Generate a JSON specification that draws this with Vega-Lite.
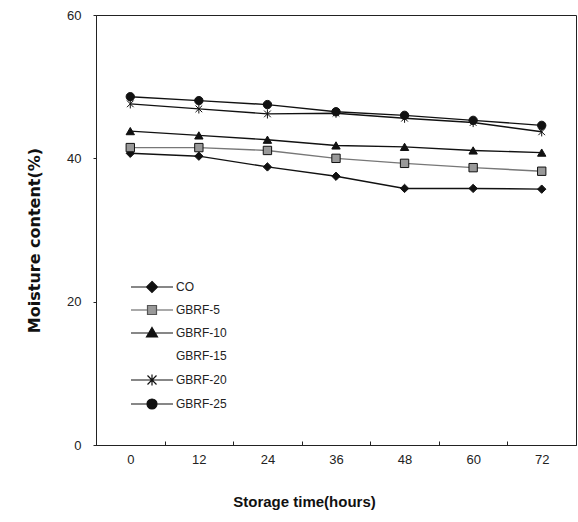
{
  "$schema": "https://vega.github.io/schema/vega-lite/v6.json",
  "width": 480,
  "height": 430,
  "autosize": "none",
  "padding": {"left": 96, "top": 15, "right": 2, "bottom": 77},
  "background": "white",
  "config": {
    "view": {"stroke": "#222", "strokeWidth": 1},
    "font": "Liberation Sans"
  },
  "data": {
    "values": [
      {"t": 0, "series": "CO", "v": 40.7},
      {"t": 12, "series": "CO", "v": 40.3},
      {"t": 24, "series": "CO", "v": 38.8},
      {"t": 36, "series": "CO", "v": 37.5},
      {"t": 48, "series": "CO", "v": 35.8},
      {"t": 60, "series": "CO", "v": 35.8},
      {"t": 72, "series": "CO", "v": 35.7},
      {"t": 0, "series": "GBRF-5", "v": 41.5},
      {"t": 12, "series": "GBRF-5", "v": 41.5},
      {"t": 24, "series": "GBRF-5", "v": 41.1},
      {"t": 36, "series": "GBRF-5", "v": 40.0},
      {"t": 48, "series": "GBRF-5", "v": 39.3},
      {"t": 60, "series": "GBRF-5", "v": 38.7},
      {"t": 72, "series": "GBRF-5", "v": 38.2},
      {"t": 0, "series": "GBRF-10", "v": 43.8},
      {"t": 12, "series": "GBRF-10", "v": 43.2},
      {"t": 24, "series": "GBRF-10", "v": 42.6},
      {"t": 36, "series": "GBRF-10", "v": 41.8},
      {"t": 48, "series": "GBRF-10", "v": 41.6},
      {"t": 60, "series": "GBRF-10", "v": 41.1},
      {"t": 72, "series": "GBRF-10", "v": 40.8},
      {"t": 0, "series": "GBRF-20", "v": 47.6},
      {"t": 12, "series": "GBRF-20", "v": 46.9},
      {"t": 24, "series": "GBRF-20", "v": 46.2},
      {"t": 36, "series": "GBRF-20", "v": 46.3},
      {"t": 48, "series": "GBRF-20", "v": 45.6},
      {"t": 60, "series": "GBRF-20", "v": 45.0},
      {"t": 72, "series": "GBRF-20", "v": 43.7},
      {"t": 0, "series": "GBRF-25", "v": 48.6},
      {"t": 12, "series": "GBRF-25", "v": 48.05},
      {"t": 24, "series": "GBRF-25", "v": 47.5},
      {"t": 36, "series": "GBRF-25", "v": 46.5},
      {"t": 48, "series": "GBRF-25", "v": 46.0},
      {"t": 60, "series": "GBRF-25", "v": 45.3},
      {"t": 72, "series": "GBRF-25", "v": 44.6}
    ]
  },
  "encoding": {
    "x": {
      "field": "t",
      "type": "ordinal",
      "bandPosition": 0.5,
      "scale": {"type": "band", "paddingInner": 0, "paddingOuter": 0},
      "axis": {
        "title": "Storage time(hours)",
        "titleFont": "Liberation Sans",
        "titleFontSize": 15,
        "titleFontWeight": "bold",
        "titleColor": "#111",
        "titleX": 208,
        "titlePadding": 28,
        "labelFont": "Liberation Sans",
        "labelFontSize": 13,
        "labelColor": "#222",
        "labelAngle": 0,
        "labelPadding": 12,
        "tickBand": "extent",
        "tickSize": -4,
        "tickColor": "#222",
        "domainColor": "#222",
        "grid": false
      }
    },
    "y": {
      "field": "v",
      "type": "quantitative",
      "scale": {"domain": [0, 60]},
      "axis": {
        "title": "Moisture content(%)",
        "titleFont": "DejaVu Sans",
        "titleFontSize": 16,
        "titleFontWeight": "bold",
        "titleColor": "#111",
        "titlePadding": 24,
        "titleY": 225,
        "values": [0, 20, 40, 60],
        "labelFont": "Liberation Sans",
        "labelFontSize": 13,
        "labelColor": "#222",
        "labelPadding": 12,
        "tickSize": 3,
        "tickColor": "#222",
        "domainColor": "#222",
        "grid": false
      }
    }
  },
  "layer": [
    {
      "mark": {"type": "line", "strokeWidth": 1.4},
      "encoding": {
        "detail": {"field": "series"},
        "stroke": {
          "condition": {"test": "datum.series === 'GBRF-5'", "value": "#777"},
          "value": "#111"
        }
      }
    },
    {
      "mark": {"type": "point", "filled": false, "opacity": 1, "strokeWidth": 1, "stroke": "#111", "size": 70},
      "encoding": {
        "fill": {
          "condition": {"test": "datum.series === 'GBRF-5'", "value": "#999"},
          "value": "#111"
        },
        "shape": {
          "field": "series",
          "type": "nominal",
          "scale": {
            "domain": ["CO", "GBRF-5", "GBRF-10", "GBRF-20", "GBRF-25"],
            "range": ["diamond", "square", "triangle-up", "M-0.8,-0.8L0.8,0.8M-0.8,0.8L0.8,-0.8M0,-1.1V1.1", "circle"]
          },
          "legend": null
        }
      }
    },
    {
      "transform": [{"filter": "datum.v < 0"}],
      "mark": {"type": "point", "filled": false, "opacity": 1, "strokeWidth": 1.2, "stroke": "#111", "size": 100},
      "encoding": {
        "shape": {
          "field": "series",
          "type": "nominal",
          "scale": {
            "domain": ["CO", "GBRF-5", "GBRF-10", "GBRF-15", "GBRF-20", "GBRF-25"],
            "range": [
              "M-4.2,0H4.2M0,-1.1L1.1,0L0,1.1L-1.1,0Z",
              "M-4.2,0H-0.9M0.9,0H4.2M-0.9,-0.9H0.9V0.9H-0.9Z",
              "M-4.2,0H4.2M0,-1.1L1.1,0.8L-1.1,0.8Z",
              "M0,-1.1V1.1",
              "M-4.2,0H4.2M-0.9,-0.9L0.9,0.9M-0.9,0.9L0.9,-0.9M0,-1.1V1.1",
              "M-4.2,0H4.2M1,0A1,1 0 1,1 -1,0A1,1 0 1,1 1,0Z"
            ]
          },
          "legend": {
            "orient": "none",
            "legendX": 50,
            "legendY": 266,
            "title": null,
            "symbolSize": 100,
            "labelOffset": 18,
            "labelFont": "Liberation Sans",
            "labelFontSize": 12,
            "labelColor": "#222",
            "rowPadding": 8,
            "encoding": {
              "symbols": {
                "fill": {"value": {"expr": "datum.value === 'GBRF-5' ? '#999' : datum.value === 'GBRF-15' ? 'transparent' : '#111'"}},
                "stroke": {"value": {"expr": "datum.value === 'GBRF-5' ? '#555' : datum.value === 'GBRF-15' ? 'transparent' : '#111'"}},
                "strokeWidth": {"value": 1.2},
                "opacity": {"value": 1}
              }
            }
          }
        }
      }
    }
  ],
  "resolve": {"scale": {"shape": "independent"}, "legend": {"shape": "independent"}}
}
